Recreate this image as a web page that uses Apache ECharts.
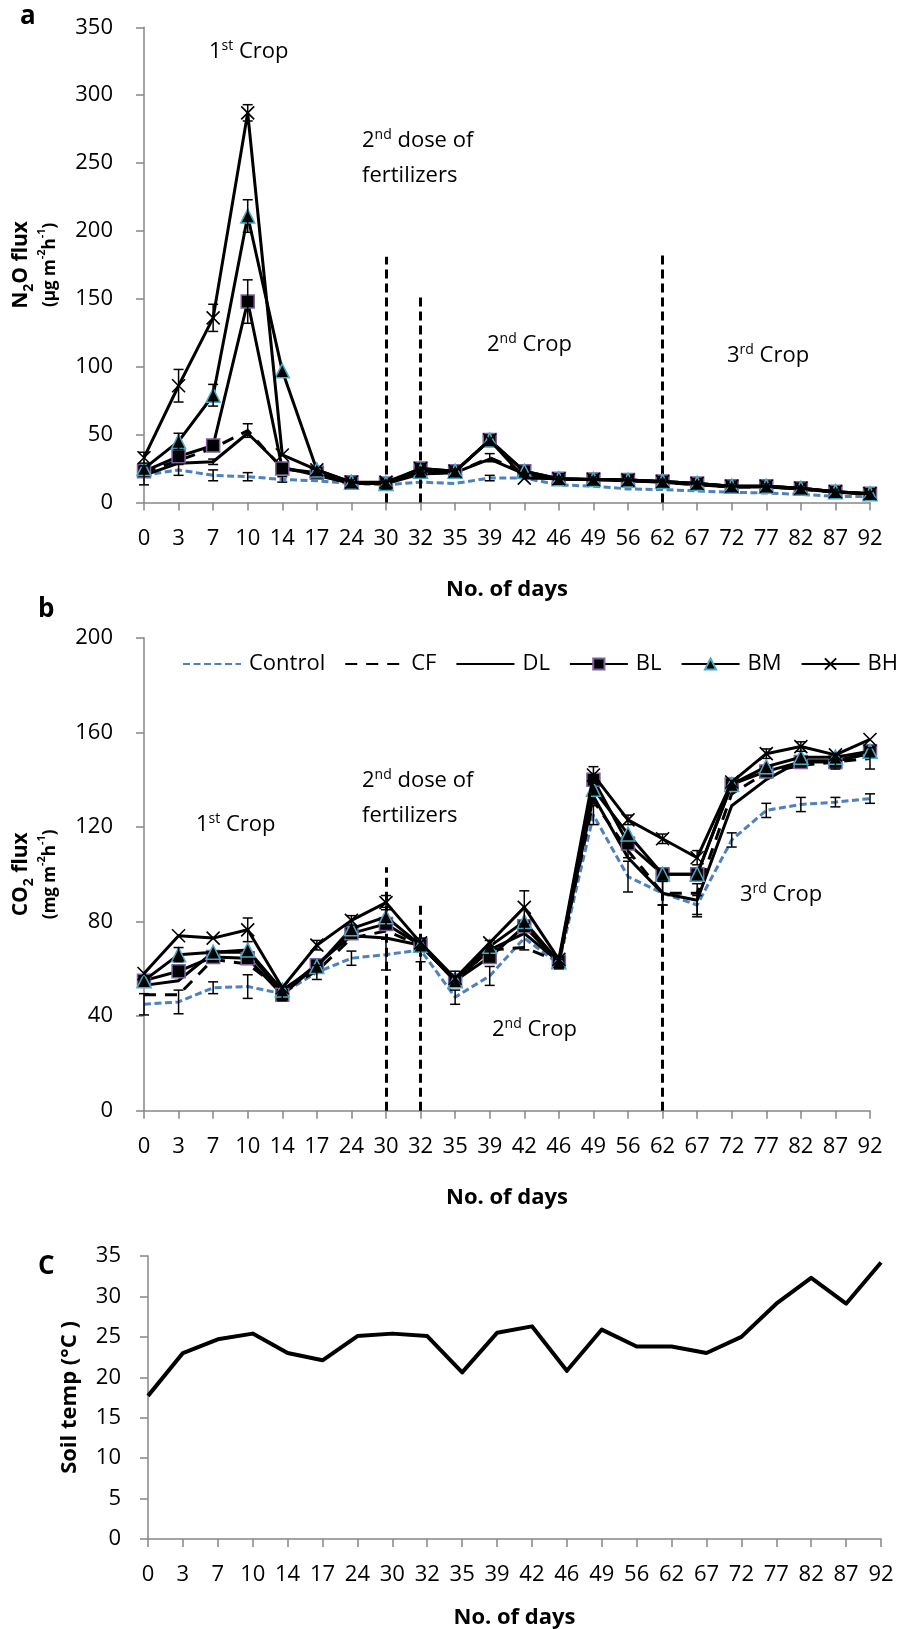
<!DOCTYPE html>
<html><head><meta charset="utf-8">
<script src="https://cdn.jsdelivr.net/npm/echarts@6/dist/echarts.min.js"></script>
<style>html,body{margin:0;padding:0;background:#fff}#c{width:898px;height:1629px}</style>
</head><body><div id="c"></div>
<script>
// ---------- DATA ----------
const days = ['0','3','7','10','14','17','24','30','32','35','39','42','46','49','56','62','67','72','77','82','87','92'];
const seriesNames = ['Control','CF','DL','BL','BM','BH'];

// Panel a: N2O flux (µg m-2 h-1)
const n2oControl = [20, 24, 20, 19, 17, 16, 14, 13, 15, 14, 18, 18, 13, 12, 10, 9.5, 8.5, 7.5, 7, 6, 4.5, 4.5];
const n2oCF      = [22, 31, 40, 53, 25, 21, 14, 14, 22, 22, 33, 22, 17, 17, 16, 15, 13, 11.5, 11.5, 10, 7.5, 6.5];
const n2oDL      = [20, 29, 30, 51, 26, 20, 14, 14, 21, 22, 32, 21, 17, 17, 16, 15, 13, 11.5, 11.5, 10, 7.5, 6.5];
const n2oBL      = [23, 34, 42, 148, 25, 22, 15, 14, 25, 23, 46, 23, 17.5, 17, 16.5, 15.5, 14, 12, 12, 10.5, 8, 6.5];
const n2oBM      = [25, 45, 79, 211, 97, 24, 15, 14, 23, 23, 46, 23, 17.5, 17, 16.5, 15.5, 14, 12, 12, 10.5, 8, 6.5];
const n2oBH      = [33, 86, 136, 287, 35, 24, 15, 15, 25, 23, 46, 18, 17.5, 17, 16.5, 15.5, 14, 12, 12, 10.5, 8, 6.5];
const n2oErrControl = [7, 4, 4, 3, 2, 0, 0, 0, 0, 0, 2, 0, 0, 0, 0, 0, 0, 0, 0, 0, 0, 0];
const n2oErrCF      = [0, 0, 0, 5, 0, 0, 0, 0, 3, 0, 3, 0, 0, 0, 0, 0, 0, 0, 0, 0, 0, 0];
const n2oErrDL      = [0, 0, 2, 0, 0, 0, 0, 0, 0, 0, 0, 0, 0, 0, 0, 0, 0, 0, 0, 0, 0, 0];
const n2oErrBL      = [0, 0, 0, 16, 0, 0, 0, 0, 0, 0, 0, 0, 0, 0, 0, 0, 0, 0, 0, 0, 0, 0];
const n2oErrBM      = [0, 6, 8, 12, 0, 0, 0, 0, 0, 0, 0, 0, 0, 0, 0, 0, 0, 0, 0, 0, 0, 0];
const n2oErrBH      = [4, 12, 10, 6, 0, 0, 0, 0, 0, 0, 0, 0, 0, 0, 0, 0, 0, 0, 0, 0, 0, 0];

// Panel b: CO2 flux (mg m-2 h-1)
const co2Control = [45, 46, 52, 52.5, 49.5, 58.5, 64.5, 66, 68, 48, 57, 73, 62, 125, 99, 92, 87, 114.5, 127, 129.5, 130.5, 132];
const co2CF      = [49, 49, 64, 62, 51, 59, 73, 76, 70, 55, 68, 69, 63, 131, 110, 92, 92, 134, 143, 146, 147.5, 149];
const co2DL      = [53, 55, 67, 67, 50, 62, 74, 73, 70, 55, 68, 75, 63, 133, 107, 92, 89, 129, 140, 148, 148, 151];
const co2BL      = [55, 59, 65, 64.5, 49, 61.5, 75, 79, 70, 55, 65, 78, 63, 140, 113, 100, 100, 138, 143.5, 147.5, 147.5, 152];
const co2BM      = [55, 66, 67, 68, 51, 61, 77, 82, 70, 55, 69.5, 80, 63, 136, 117, 100, 100, 138, 145.5, 149.5, 149.5, 152];
const co2BH      = [58, 74, 73, 76.5, 52, 70, 80.5, 88, 71, 56, 71, 86, 64, 142, 123, 115, 107, 139, 151, 154, 150.5, 157];
const co2ErrControl = [4.5, 5, 2.5, 5, 3, 3, 3, 6.5, 5, 3, 4, 5, 2, 4, 6.5, 5, 4, 3, 3, 3, 2, 2];
const co2ErrCF      = [0, 0, 0, 0, 0, 0, 0, 0, 0, 0, 4, 0, 0, 0, 3, 0, 0, 0, 0, 0, 0, 4.5];
const co2ErrDL      = [0, 0, 0, 0, 0, 0, 0, 0, 0, 0, 0, 0, 0, 0, 0, 5, 7, 0, 0, 0, 0, 0];
const co2ErrBL      = [0, 0, 0, 0, 0, 0, 0, 0, 0, 0, 0, 0, 0, 0, 0, 0, 0, 0, 0, 0, 3, 0];
const co2ErrBM      = [0, 3, 0, 0, 0, 0, 0, 4, 0, 0, 0, 0, 0, 0, 0, 0, 0, 0, 0, 0, 0, 0];
const co2ErrBH      = [0, 0, 0, 5, 0, 2, 2, 3, 0, 3, 0, 7, 0, 3.5, 2, 2, 3, 0, 2, 2, 0, 0];

// Panel c: soil temperature (°C)
const soilTemp = [17.7, 23.0, 24.7, 25.4, 23.0, 22.1, 25.1, 25.4, 25.1, 20.6, 25.5, 26.3, 20.8, 25.9, 23.8, 23.8, 23.0, 25.0, 29.1, 32.3, 29.1, 34.2];

// Vertical dashed event lines: [day, top value]
const eventLinesA = [['30', 181], ['32', 153], ['62', 182]];
const eventLinesB = [['30', 103], ['32', 87], ['62', 94]];

// ---------- CHART ----------
const FONT = 'Open Sans';
const AXIS_GREY = '#868686';
const chart = echarts.init(document.getElementById('c'), null, {renderer: 'canvas'});

const styles = {
  Control: {line: {color: '#4F81BD', width: 3, type: [7, 3.5]}, symbol: 'none'},
  CF: {line: {color: '#000', width: 3, type: [12, 9]}, symbol: 'none'},
  DL: {line: {color: '#000', width: 3, type: 'solid'}, symbol: 'none'},
  BL: {line: {color: '#000', width: 3, type: 'solid'}, symbol: 'rect', size: 13, item: {color: '#000', borderColor: '#7F619F', borderWidth: 1.5}},
  BM: {line: {color: '#000', width: 3, type: 'solid'}, symbol: 'triangle', size: 14, item: {color: '#000', borderColor: '#4BACC6', borderWidth: 1.5}},
  BH: {line: {color: '#000', width: 3, type: 'solid'}, symbol: 'path://M0,0L10,10M10,0L0,10', size: 13, item: {color: '#000', borderColor: '#000', borderWidth: 1.6}}
};

function lineSeries(name, gi, values, extra) {
  const st = styles[name];
  const s = {
    name, type: 'line', xAxisIndex: gi, yAxisIndex: gi, data: values,
    lineStyle: Object.assign({join: 'round'}, st.line),
    symbol: st.symbol, symbolSize: st.size || 0, showSymbol: st.symbol !== 'none',
    itemStyle: st.item || {color: st.line.color},
    clip: false, z: 2 + seriesNames.indexOf(name)
  };
  return Object.assign(s, extra || {});
}

function errSeries(gi, vals, errs) {
  const data = [];
  vals.forEach((v, i) => { if (errs[i] > 0) data.push([i, v, errs[i]]); });
  return {
    type: 'custom', xAxisIndex: gi, yAxisIndex: gi, data, z: 9, silent: true,
    encode: {x: 0, y: 1},
    renderItem(params, api) {
      const i = api.value(0), v = api.value(1), e = api.value(2);
      const t = api.coord([i, v + e]), b = api.coord([i, v - e]);
      const w = 5, st = {stroke: '#000', lineWidth: 1.5};
      return {type: 'group', children: [
        {type: 'line', shape: {x1: t[0], y1: t[1], x2: b[0], y2: b[1]}, style: st},
        {type: 'line', shape: {x1: t[0] - w, y1: t[1], x2: t[0] + w, y2: t[1]}, style: st},
        {type: 'line', shape: {x1: b[0] - w, y1: b[1], x2: b[0] + w, y2: b[1]}, style: st}
      ]};
    }
  };
}

function eventMark(lines) {
  return {
    silent: true, symbol: ['none', 'none'], label: {show: false},
    lineStyle: {color: '#000', width: 3, type: [9, 5]},
    data: lines.map(l => [{coord: [l[0], 0]}, {coord: [l[0], l[1]]}])
  };
}

function xAxis(gi, nameGap) {
  return {
    type: 'category', gridIndex: gi, data: days, boundaryGap: false,
    axisLine: {show: true, lineStyle: {color: AXIS_GREY, width: 1.5}},
    axisTick: {show: true, interval: 0, length: 8, lineStyle: {color: AXIS_GREY, width: 1.5}},
    axisLabel: {interval: 0, color: '#000', fontSize: 22, fontFamily: FONT, margin: 25},
    splitLine: {show: false},
    name: 'No. of days', nameLocation: 'middle', nameGap,
    nameTextStyle: {fontSize: 22, fontWeight: 'bold', fontFamily: FONT, color: '#000'}
  };
}

function yAxis(gi, max, interval, margin, name, nameGap, rich) {
  return {
    type: 'value', gridIndex: gi, min: 0, max, interval,
    axisLine: {show: true, lineStyle: {color: AXIS_GREY, width: 1.5}},
    axisTick: {show: true, length: 8, lineStyle: {color: AXIS_GREY, width: 1.5}},
    axisLabel: {color: '#000', fontSize: 22, fontFamily: FONT, margin},
    splitLine: {show: false},
    name, nameLocation: 'middle', nameRotate: 90, nameGap,
    nameTextStyle: {fontFamily: FONT, color: '#000', rich}
  };
}

const fluxRich = {
  b: {fontSize: 21, fontWeight: 'bold', fontFamily: FONT, color: '#000', lineHeight: 30},
  bs: {fontSize: 14, fontWeight: 'bold', fontFamily: FONT, color: '#000', lineHeight: 12, verticalAlign: 'bottom'},
  s: {fontSize: 17, fontWeight: 'bold', fontFamily: FONT, color: '#000', lineHeight: 28},
  ss: {fontSize: 11, fontWeight: 'bold', fontFamily: FONT, color: '#000', lineHeight: 11, verticalAlign: 'top'}
};
const tempRich = {
  b: {fontSize: 22, fontWeight: 'bold', fontFamily: FONT, color: '#000', lineHeight: 28}
};

const annRich = {
  n: {fontSize: 22, fontFamily: FONT, fill: '#000', lineHeight: 26},
  s: {fontSize: 14, fontFamily: FONT, fill: '#000', lineHeight: 14, verticalAlign: 'top'}
};
function ann(x, y, text) {
  return {type: 'text', x, y, silent: true, style: {text, rich: annRich, align: 'left', verticalAlign: 'middle'}};
}
function panelLabel(x, y, t) {
  return {type: 'text', x, y, silent: true, style: {text: t, fontSize: 26, fontWeight: 'bold', fontFamily: FONT, fill: '#000', align: 'left', verticalAlign: 'middle'}};
}

const series = [];
const aVals = [n2oControl, n2oCF, n2oDL, n2oBL, n2oBM, n2oBH];
const aErr = [n2oErrControl, n2oErrCF, n2oErrDL, n2oErrBL, n2oErrBM, n2oErrBH];
const bVals = [co2Control, co2CF, co2DL, co2BL, co2BM, co2BH];
const bErr = [co2ErrControl, co2ErrCF, co2ErrDL, co2ErrBL, co2ErrBM, co2ErrBH];
seriesNames.forEach((n, k) => {
  series.push(lineSeries(n, 0, aVals[k], k === 0 ? {markLine: eventMark(eventLinesA)} : null));
});
seriesNames.forEach((n, k) => {
  series.push(lineSeries(n, 1, bVals[k], k === 0 ? {markLine: eventMark(eventLinesB)} : null));
});
seriesNames.forEach((n, k) => { series.push(errSeries(0, aVals[k], aErr[k])); });
seriesNames.forEach((n, k) => { series.push(errSeries(1, bVals[k], bErr[k])); });
series.push({
  name: 'Soil temp', type: 'line', xAxisIndex: 2, yAxisIndex: 2, data: soilTemp,
  symbol: 'none', lineStyle: {color: '#000', width: 4, join: 'round'}, itemStyle: {color: '#000'}, clip: false
});

// legend entries: plain-line series hide the default legend symbol
const legendData = seriesNames.map(n => styles[n].symbol === 'none'
  ? {name: n, itemStyle: {opacity: 0}}
  : {name: n});

chart.setOption({
  animation: false,
  backgroundColor: '#fff',
  grid: [
    {left: 144, top: 27.3, width: 726, height: 475.2, outerBoundsMode: 'none', containLabel: false},
    {left: 144, top: 637.8, width: 726, height: 472.9, outerBoundsMode: 'none', containLabel: false},
    {left: 148, top: 1256, width: 733, height: 283, outerBoundsMode: 'none', containLabel: false}
  ],
  xAxis: [xAxis(0, 76), xAxis(1, 76), xAxis(2, 68)],
  yAxis: [
    yAxis(0, 350, 50, 31, '{b|N}{bs|2}{b|O flux}\n{s|(µg m}{ss|-2}{s|h}{ss|-1}{s|)}', 80, fluxRich),
    yAxis(1, 200, 40, 31, '{b|CO}{bs|2}{b| flux}\n{s|(mg m}{ss|-2}{s|h}{ss|-1}{s|)}', 80, fluxRich),
    yAxis(2, 35, 5, 27, '{b|Soil temp (°C )}', 64, tempRich)
  ],
  legend: {
    data: legendData, left: 177, top: 647, width: 800, orient: 'horizontal',
    itemWidth: 58, itemHeight: 14, itemGap: 19, selectedMode: false,
    textStyle: {fontSize: 22, fontFamily: FONT, color: '#000', lineHeight: 24, padding: [0, 0, 0, 3]}
  },
  graphic: [
    panelLabel(20, 17, 'a'),
    panelLabel(38, 610, 'b'),
    panelLabel(38, 1267, 'C'),
    ann(209, 52, '{n|1}{s|st}{n| Crop}'),
    ann(362, 141, '{n|2}{s|nd}{n| dose of}'),
    ann(362, 176, '{n|fertilizers}'),
    ann(487, 345, '{n|2}{s|nd}{n| Crop}'),
    ann(727, 356, '{n|3}{s|rd}{n| Crop}'),
    ann(196, 825, '{n|1}{s|st}{n| Crop}'),
    ann(362, 781, '{n|2}{s|nd}{n| dose of}'),
    ann(362, 816, '{n|fertilizers}'),
    ann(492, 1030, '{n|2}{s|nd}{n| Crop}'),
    ann(740, 895, '{n|3}{s|rd}{n| Crop}')
  ],
  series
});
</script></body></html>
